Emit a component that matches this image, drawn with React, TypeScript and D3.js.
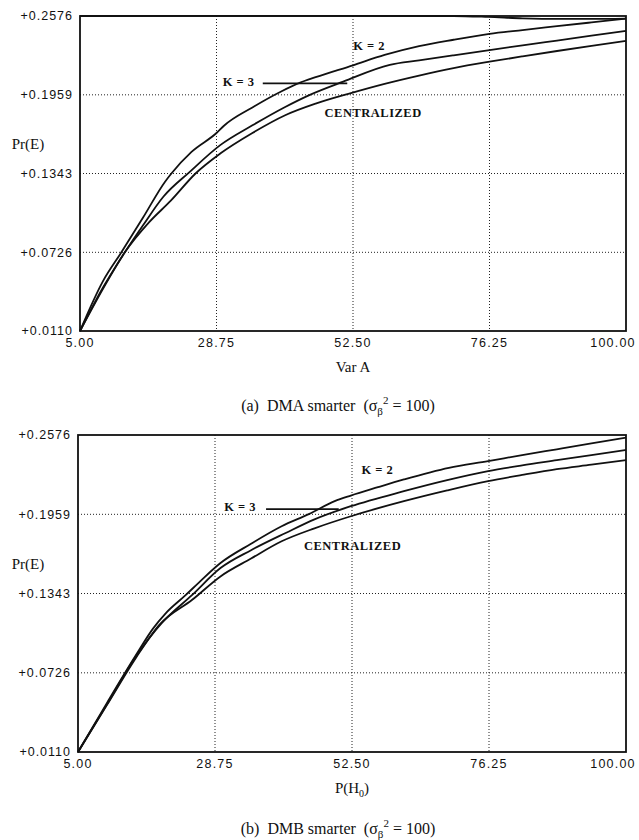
import React from "react";
import * as d3 from "d3";

// ---------- data ----------
const xTicks = [5, 28.75, 52.5, 76.25, 100];
const xTickLabels = ["5.00", "28.75", "52.50", "76.25", "100.00"];
const yTicks = [0.011, 0.0726, 0.1343, 0.1959, 0.2576];
const yTickLabels = ["+0.0110", "+0.0726", "+0.1343", "+0.1959", "+0.2576"];

// Panel (a): DMA smarter
const aK2X = [5, 9, 12.2, 16, 19.8, 20.9, 24.4, 28.75, 30, 35, 40, 43.3, 46, 52.5, 58, 64, 70, 76.25, 82, 88, 94, 100];
const aK2Y = [0.011, 0.05, 0.0726, 0.1, 0.1279, 0.1343, 0.1512, 0.166, 0.1715, 0.186, 0.1985, 0.2054, 0.2097, 0.219, 0.2271, 0.234, 0.239, 0.2436, 0.2466, 0.2496, 0.2526, 0.2556];
const aK3X = [5, 9, 12.8, 16, 19.5, 24.1, 29.4, 35, 40.7, 45, 50.8, 58.9, 64, 70, 76.25, 82, 88, 94, 100];
const aK3Y = [0.011, 0.045, 0.0726, 0.094, 0.1161, 0.1356, 0.1565, 0.172, 0.1864, 0.1959, 0.2062, 0.2193, 0.2228, 0.2268, 0.2309, 0.2346, 0.2384, 0.2422, 0.2459];
const aCenX = [5, 9, 12.8, 17, 20.8, 25.1, 29.4, 35, 40.7, 46, 52, 58, 64, 70, 76.25, 82, 88, 94, 100];
const aCenY = [0.011, 0.044, 0.0726, 0.096, 0.113, 0.1343, 0.1499, 0.166, 0.1799, 0.189, 0.1971, 0.2045, 0.211, 0.2168, 0.2218, 0.226, 0.2302, 0.2342, 0.2381];
const aBoundX = [5, 40, 70, 76, 82, 88, 94, 100];
const aBoundY = [0.2576, 0.2577, 0.2576, 0.2569, 0.2558, 0.2553, 0.2553, 0.2556];

// Panel (b): DMB smarter
const bK2X = [5, 10, 15, 18, 20.2, 23.7, 26, 29.7, 35, 40.3, 45, 49.5, 52.3, 57, 61.5, 69.3, 76.1, 82, 88, 94, 100];
const bK2Y = [0.011, 0.049, 0.086, 0.107, 0.1189, 0.1332, 0.143, 0.158, 0.173, 0.1866, 0.196, 0.2061, 0.2105, 0.217, 0.223, 0.2321, 0.2373, 0.242, 0.2465, 0.251, 0.2555];
const bK3X = [5, 10, 15, 19.5, 24.8, 29.7, 35, 41, 46, 52.3, 61.5, 69, 76.1, 82, 88, 94, 100];
const bK3Y = [0.011, 0.048, 0.085, 0.1112, 0.1332, 0.1541, 0.168, 0.1814, 0.192, 0.2022, 0.2139, 0.2225, 0.2295, 0.234, 0.238, 0.242, 0.2459];
const bCenX = [5, 10, 15, 19.1, 24.8, 29.7, 35, 40.3, 46, 52.3, 61.5, 69, 76.1, 82, 88, 94, 100];
const bCenY = [0.011, 0.0475, 0.084, 0.1099, 0.1294, 0.1476, 0.1615, 0.1749, 0.185, 0.1944, 0.2061, 0.2145, 0.2217, 0.2265, 0.231, 0.2345, 0.2381];

// annotations (data coordinates)
const aLabels = [
  { text: "K = 2", x: 55.3, y: 0.2343 },
  { text: "K = 3", x: 32.6, y: 0.2059 },
  { text: "CENTRALIZED", x: 56.0, y: 0.1817 },
];
const aLeader = { x1: 36.8, x2: 51.5, y: 0.2049 };
const bLabels = [
  { text: "K = 2", x: 56.9, y: 0.2309 },
  { text: "K = 3", x: 33.1, y: 0.2018 },
  { text: "CENTRALIZED", x: 52.6, y: 0.1713 },
];
const bLeader = { x1: 37.6, x2: 50.2, y: 0.1999 };

const zip = (xs: number[], ys: number[]) => xs.map((x, i) => [x, ys[i]] as [number, number]);

type PanelProps = {
  left: number; right: number; top: number; bottom: number;
  series: [number, number][][];
  labels: { text: string; x: number; y: number }[];
  leader: { x1: number; x2: number; y: number };
  xTitle: React.ReactNode;
  caption: React.ReactNode;
  xTitleY: number;
  captionY: number;
};

const serif = "Liberation Serif, Times New Roman, serif";
const sans = "Liberation Sans, Arial, sans-serif";

function Panel(p: PanelProps) {
  const x = d3.scaleLinear().domain([5, 100]).range([p.left, p.right]);
  const y = d3.scaleLinear().domain([0.011, 0.2576]).range([p.bottom, p.top]);
  const line = d3.line<[number, number]>().x(d => x(d[0])).y(d => y(d[1])).curve(d3.curveMonotoneX);
  return (
    <g>
      {/* grid */}
      {xTicks.slice(1, -1).map(t => (
        <line key={"gx" + t} x1={x(t)} x2={x(t)} y1={p.top} y2={p.bottom}
          stroke="#222" strokeWidth={1} strokeDasharray="1,2" />
      ))}
      {yTicks.slice(1, -1).map(t => (
        <line key={"gy" + t} x1={p.left} x2={p.right} y1={y(t)} y2={y(t)}
          stroke="#222" strokeWidth={1} strokeDasharray="1,2" />
      ))}
      {/* frame */}
      <rect x={p.left} y={p.top} width={p.right - p.left} height={p.bottom - p.top}
        fill="none" stroke="#111" strokeWidth={1.8} />
      {/* curves */}
      {p.series.map((s, i) => (
        <path key={i} d={line(s) || ""} fill="none" stroke="#111" strokeWidth={1.8} />
      ))}
      {/* y tick labels */}
      {yTicks.map((t, i) => (
        <text key={"yl" + t} x={p.left - 7} y={y(t)} dy="0.35em" textAnchor="end"
          fontFamily={sans} fontSize={12.5} letterSpacing={1} fill="#111">
          {yTickLabels[i]}
        </text>
      ))}
      {/* x tick labels */}
      {xTicks.map((t, i) => (
        <text key={"xl" + t} x={i === xTicks.length - 1 ? x(t) - 13 : x(t)} y={p.bottom + 12} dy="0.35em"
          textAnchor="middle" fontFamily={sans} fontSize={12.5}
          letterSpacing={1.2} fill="#111">
          {xTickLabels[i]}
        </text>
      ))}
      {/* axis titles */}
      <text x={28} y={y(0.1343) - 30} dy="0.35em" textAnchor="middle"
        fontFamily={serif} fontSize={15} fill="#111">Pr(E)</text>
      <text x={(p.left + p.right) / 2} y={p.xTitleY} dy="0.35em" textAnchor="middle"
        fontFamily={serif} fontSize={15} fill="#111">{p.xTitle}</text>
      <text x={338} y={p.captionY} dy="0.35em" textAnchor="middle" style={{ whiteSpace: "pre" }}
        fontFamily={serif} fontSize={16} fill="#111">{p.caption}</text>
      {/* annotations */}
      {p.labels.map(l => (
        <text key={l.text} x={x(l.x)} y={y(l.y)} dy="0.35em" textAnchor="middle"
          fontFamily={serif} fontWeight="bold" fontSize={12.5}
          letterSpacing={0.5} fill="#111">{l.text}</text>
      ))}
      <line x1={x(p.leader.x1)} x2={x(p.leader.x2)} y1={y(p.leader.y)} y2={y(p.leader.y)}
        stroke="#111" strokeWidth={1.8} />
    </g>
  );
}

export default function App() {
  return (
    <svg width={639} height={840} style={{ position: "absolute", left: 0, top: 0, background: "#fff" }}>
      <rect x={0} y={0} width={639} height={840} fill="#fff" />
      <Panel left={80} right={626} top={16} bottom={331}
        series={[zip(aBoundX, aBoundY), zip(aK2X, aK2Y), zip(aK3X, aK3Y), zip(aCenX, aCenY)]}
        labels={aLabels} leader={aLeader}
        xTitle="Var A" xTitleY={367}
        caption={<>(a)  DMA smarter  (σ<tspan dy="4" fontSize={11}>β</tspan><tspan dy="-11" fontSize={11}>2</tspan><tspan dy="7"> = 100)</tspan></>}
        captionY={405} />
      <Panel left={78} right={626} top={435} bottom={752}
        series={[zip(bK2X, bK2Y), zip(bK3X, bK3Y), zip(bCenX, bCenY)]}
        labels={bLabels} leader={bLeader}
        xTitle={<>P(H<tspan dy="4" fontSize={10}>0</tspan><tspan dy="-4">)</tspan></>} xTitleY={788}
        caption={<>(b)  DMB smarter  (σ<tspan dy="4" fontSize={11}>β</tspan><tspan dy="-11" fontSize={11}>2</tspan><tspan dy="7"> = 100)</tspan></>}
        captionY={828} />
    </svg>
  );
}
